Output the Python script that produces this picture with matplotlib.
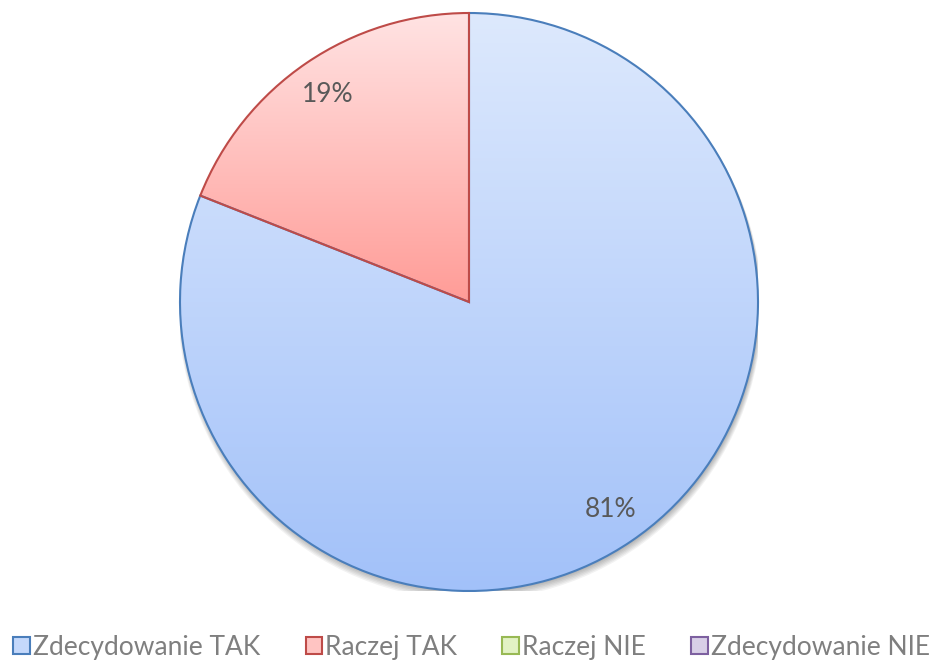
import numpy as np
import matplotlib.pyplot as plt
from matplotlib.patches import Patch, Circle
from matplotlib.colors import LinearSegmentedColormap

labels = ['Zdecydowanie TAK', 'Raczej TAK', 'Raczej NIE', 'Zdecydowanie NIE']
values = [81, 19, 0, 0]
edge_colors = ['#4a7ebb', '#be4b48', '#98b954', '#7d60a0']
top_colors = ['#dde9fd', '#ffe3e3', '#eef8dc', '#e8e2f0']
bottom_colors = ['#a2c1f9', '#ff9c97', '#cfe8a0', '#c2b3d8']
mid_colors = ['#c4d8fb', '#ffc4c2', '#e2f2c4', '#d8cfe7']

fig = plt.figure(figsize=(9.33, 6.62), dpi=100)
r_px, cx, cy = 289, 469, 302
ax = fig.add_axes([(cx - r_px) / 933, (662 - cy - r_px) / 662, 2 * r_px / 933, 2 * r_px / 662])

# only non-zero slices can be drawn
nz = [i for i, v in enumerate(values) if v > 0]
wedges, texts, autotexts = ax.pie([values[i] for i in nz], startangle=90, counterclock=False,
                                  autopct='%.0f%%', pctdistance=0.87,
                                  wedgeprops=dict(linewidth=1.5, zorder=2),
                                  textprops=dict(color='#595959', fontsize=19, family='Lato'))

# soft shadow under the pie
for k in range(6):
    ax.add_patch(Circle((0.004, -0.006 - 0.003 * k), 1.0 + 0.002 * k, color='#000000',
                        alpha=0.05, zorder=0.5, linewidth=0))

grad = np.linspace(0, 1, 256).reshape(-1, 1)
for w, i in zip(wedges, nz):
    w.set_facecolor('none')
    w.set_edgecolor(edge_colors[i])
    ys = w.get_path().vertices[:, 1]
    cmap = LinearSegmentedColormap.from_list('g%d' % i, [top_colors[i], bottom_colors[i]])
    im = ax.imshow(grad, extent=[-1, 1, ys.min(), ys.max()], origin='upper', cmap=cmap,
                   aspect='auto', zorder=1, interpolation='bilinear')
    im.set_clip_path(w)

for t in autotexts:
    t.set_zorder(5)

ax.set_xlim(-1, 1)
ax.set_ylim(-1, 1)
ax.axis('off')

handles = [Patch(facecolor=mid_colors[i], edgecolor=edge_colors[i], linewidth=1.5, label=labels[i])
           for i in range(len(labels))]
fig.legend(handles=handles, loc='center', bbox_to_anchor=(0.5 + 5 / 933, 1 - 647 / 662), ncol=4,
           frameon=False, handlelength=0.64, handleheight=0.64, handletextpad=0.1,
           columnspacing=1.72, labelcolor='#7f7f7f', borderpad=0, borderaxespad=0,
           prop=dict(family='Lato', size=19))

fig.savefig('out.png', dpi=100)
